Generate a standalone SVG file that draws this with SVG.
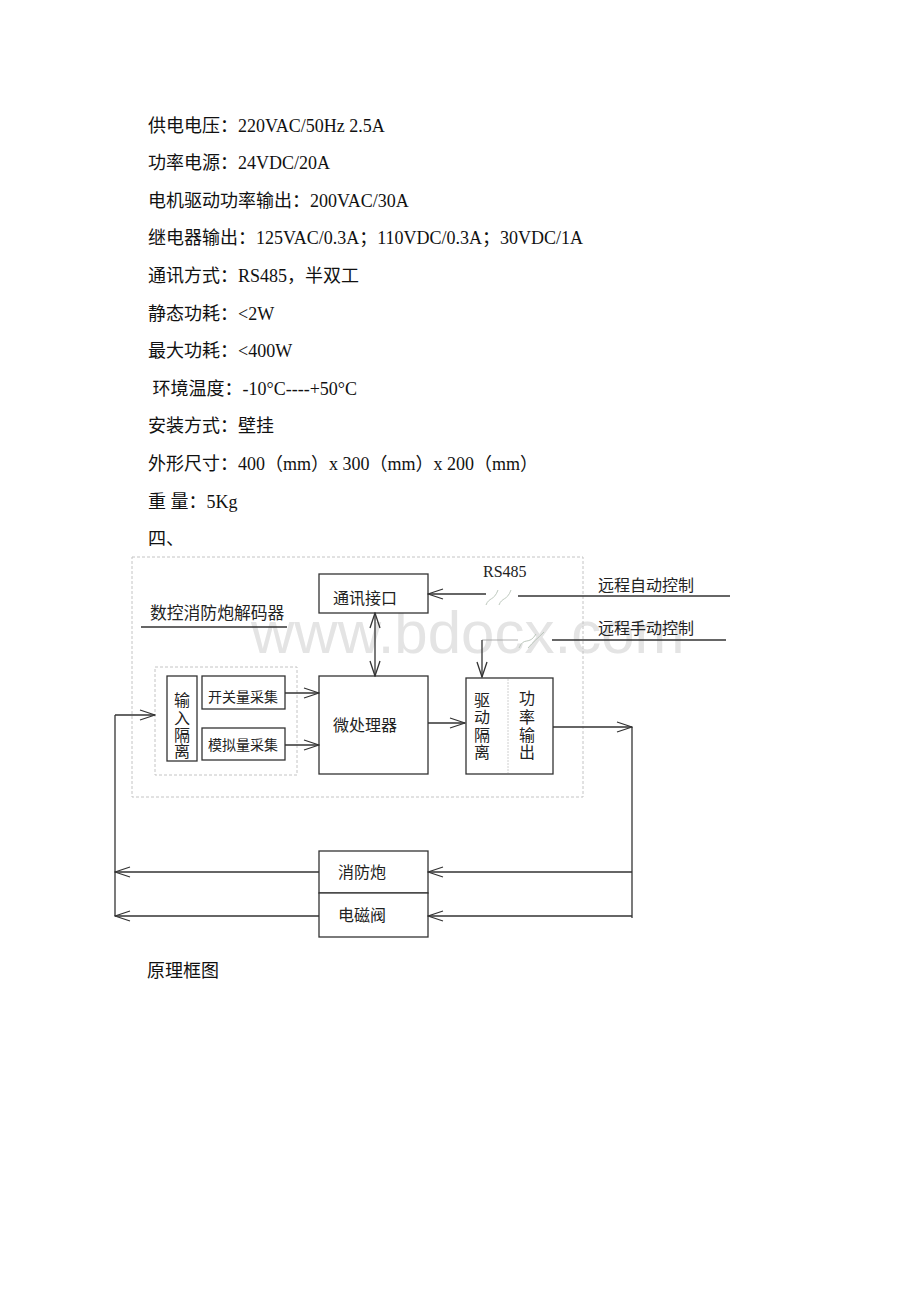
<svg xmlns="http://www.w3.org/2000/svg" width="920" height="1302" viewBox="0 0 920 1302">
<style>
.body{font-family:"Liberation Serif","Noto Sans CJK SC",serif;font-size:18px;fill:#111}
.lbl{font-family:"Liberation Serif","Noto Sans CJK SC",serif;font-size:16px;fill:#222}
.sm{font-size:14px}
.box{fill:#fff;stroke:#333;stroke-width:1.3}
.dash{fill:none;stroke:#c4c4c4;stroke-width:1;stroke-dasharray:3 2}
.ln{fill:none;stroke:#333;stroke-width:1.3}
.thin{fill:none;stroke:#999;stroke-width:0.8}
.wm{font-family:"Liberation Sans",Arial,sans-serif;font-size:60px;fill:#e4e4e4}
.brk{fill:none;stroke:#b5c2b5;stroke-width:0.9}
</style>
<defs>
<marker id="ah" viewBox="-16 -6 17 12" refX="0" refY="0" markerWidth="17" markerHeight="12" orient="auto-start-reverse" markerUnits="userSpaceOnUse">
<path d="M-15,-5 L0,0 L-15,5" fill="none" stroke="#333" stroke-width="1.3"/>
</marker>
</defs>
<rect width="920" height="1302" fill="#fff"/>

<g id="spec-text" class="body">
<text x="148" y="131.5">供电电压：220VAC/50Hz 2.5A</text>
<text x="148" y="169.1">功率电源：24VDC/20A</text>
<text x="148" y="206.7">电机驱动功率输出：200VAC/30A</text>
<text x="148" y="244.3">继电器输出：125VAC/0.3A；110VDC/0.3A；30VDC/1A</text>
<text x="148" y="281.9">通讯方式：RS485，半双工</text>
<text x="148" y="319.5">静态功耗：&lt;2W</text>
<text x="148" y="357.1">最大功耗：&lt;400W</text>
<text x="148" y="394.7" xml:space="preserve"> 环境温度：-10°C----+50°C</text>
<text x="148" y="432.3">安装方式：壁挂</text>
<text x="148" y="469.9">外形尺寸：400（mm）x 300（mm）x 200（mm）</text>
<text x="148" y="507.5">重 量：5Kg</text>
<text x="148" y="545.1">四、</text>
<text x="147" y="977">原理框图</text>
</g>

<text id="watermark" class="wm" x="251" y="653">www.bdocx.com</text>

<g id="decoder-frame">
<rect class="dash" x="132" y="557" width="451" height="240"/>
<text class="lbl" x="150" y="619" style="font-size:16.8px">数控消防炮解码器</text>
<line class="ln" x1="141" y1="627" x2="287" y2="627"/>
</g>

<g id="input-frame">
<rect class="dash" x="155" y="667" width="142" height="108"/>
</g>

<g id="comm-interface">
<rect class="box" x="319" y="574" width="109" height="39"/>
<text class="lbl" x="365" y="604" text-anchor="middle">通讯接口</text>
</g>

<g id="microprocessor">
<rect class="box" x="319" y="676" width="109" height="98"/>
<text class="lbl" x="365" y="731" text-anchor="middle">微处理器</text>
</g>

<g id="input-isolation">
<rect class="box" x="167" y="676" width="30" height="85"/>
<text class="lbl" text-anchor="middle"><tspan x="182" y="706">输</tspan><tspan x="182" y="724">入</tspan><tspan x="182" y="741">隔</tspan><tspan x="182" y="757">离</tspan></text>
</g>

<g id="switch-acq">
<rect class="box" x="202" y="676" width="83" height="33"/>
<text class="lbl sm" x="243" y="702" text-anchor="middle">开关量采集</text>
</g>

<g id="analog-acq">
<rect class="box" x="202" y="728" width="83" height="32"/>
<text class="lbl sm" x="243" y="750" text-anchor="middle">模拟量采集</text>
</g>

<g id="drive-output">
<rect class="box" x="466" y="678" width="87" height="96"/>
<line x1="508" y1="679" x2="508" y2="773" stroke="#d0d0d0" stroke-width="1" stroke-dasharray="2 1"/>
<text class="lbl" text-anchor="middle"><tspan x="482" y="706">驱</tspan><tspan x="482" y="723">动</tspan><tspan x="482" y="741">隔</tspan><tspan x="482" y="758">离</tspan></text>
<text class="lbl" text-anchor="middle"><tspan x="527" y="704">功</tspan><tspan x="527" y="723">率</tspan><tspan x="527" y="741">输</tspan><tspan x="527" y="758">出</tspan></text>
</g>

<g id="cannon">
<rect class="box" x="319" y="851" width="109" height="42"/>
<text class="lbl" x="362" y="878" text-anchor="middle">消防炮</text>
</g>

<g id="valve">
<rect class="box" x="319" y="893" width="109" height="44"/>
<text class="lbl" x="362" y="921" text-anchor="middle">电磁阀</text>
</g>

<g id="remote-labels">
<text class="lbl" x="483" y="577">RS485</text>
<text class="lbl" x="598" y="591">远程自动控制</text>
<text class="lbl" x="598" y="634">远程手动控制</text>
</g>

<g id="connectors">
<!-- RS485 link -->
<line class="ln" x1="486" y1="594" x2="428" y2="594" marker-end="url(#ah)"/>
<path class="brk" d="M486,605 C489,597 494,601 498,590"/>
<path class="brk" d="M499,605 C502,597 507,601 511,590"/>
<line class="ln" x1="518" y1="596" x2="730" y2="596"/>
<!-- manual control -->
<line class="ln" x1="552" y1="640" x2="726" y2="640"/>
<path class="brk" d="M519,648 C524,636 529,646 536,634"/>
<path class="brk" d="M528,648 C533,642 538,638 544,632"/>
<path class="thin" d="M518,640 L482,640"/>
<line class="ln" x1="482" y1="640" x2="482" y2="677" marker-end="url(#ah)"/>
<!-- comm <-> mcu -->
<line class="ln" x1="375" y1="613" x2="375" y2="676" marker-start="url(#ah)" marker-end="url(#ah)"/>
<!-- acquisition to mcu -->
<line class="ln" x1="285" y1="693" x2="319" y2="693" marker-end="url(#ah)"/>
<line class="ln" x1="285" y1="745" x2="319" y2="745" marker-end="url(#ah)"/>
<!-- mcu to drive -->
<line class="ln" x1="428" y1="723" x2="465" y2="723" marker-end="url(#ah)"/>
<!-- output -->
<line class="ln" x1="553" y1="727" x2="632" y2="727" marker-end="url(#ah)"/>
<line class="ln" x1="632" y1="727" x2="632" y2="918"/>
<line class="ln" x1="632" y1="872" x2="428" y2="872" marker-end="url(#ah)"/>
<line class="ln" x1="632" y1="916" x2="428" y2="916" marker-end="url(#ah)"/>
<!-- feedback -->
<line class="ln" x1="319" y1="872" x2="115" y2="872" marker-end="url(#ah)"/>
<line class="ln" x1="319" y1="916" x2="115" y2="916" marker-end="url(#ah)"/>
<line class="ln" x1="115" y1="916" x2="115" y2="715"/>
<line class="ln" x1="115" y1="715" x2="155" y2="715" marker-end="url(#ah)"/>
</g>
</svg>
